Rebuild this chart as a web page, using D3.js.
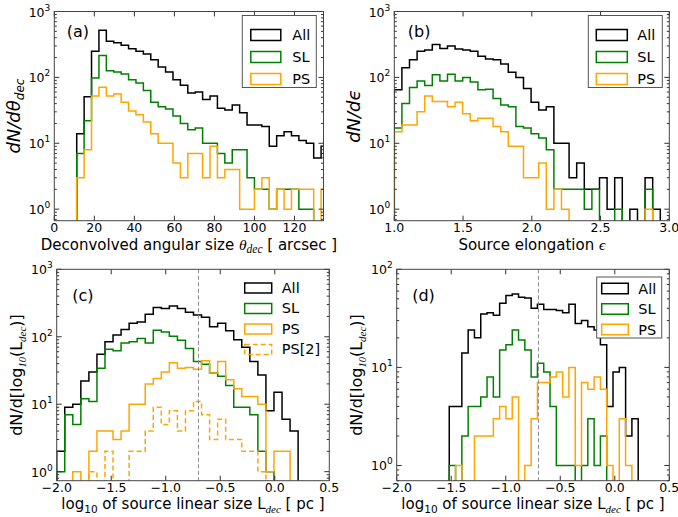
<!DOCTYPE html>
<html><head><meta charset="utf-8">
<script src="https://cdn.jsdelivr.net/npm/d3@7"></script>
<style>
body{margin:0;background:#fff;}
text{font-family:"DejaVu Sans",sans-serif;fill:#000;}
</style></head>
<body><svg id="chart" width="678" height="517"></svg>
<script>
// ---------------- DATA ----------------
// (a) deconvolved angular size [arcsec]: bins start / width, counts per bin
const aBinFirst = 11.2, aBinWidth = 3.7;
const aAll = [14, 51, 249, 519, 353, 336, 307, 273, 249, 226, 186, 144, 121, 92, 76, 58, 60, 46, 52, 34, 32, 38, 29, 19, 19, 18, 9, 13, 15, 13, 11, 10, 6, 9];
const aSL  = [7, 22, 98, 214, 126, 121, 113, 92, 82, 63, 42, 36, 33, 26, 20, 16, 17, 10, 10, 7, 5, 8, 8, 3, 2, 2, 1, 2, 2, 2, 1, 1, 0, 0];
const aPS  = [3, 8, 52, 71, 52, 56, 42, 31, 27, 21, 14, 10, 10, 5, 3, 7, 7, 3, 9, 3, 4, 4, 1, 1, 2, 3, 1, 2, 1, 2, 2, 2, 0, 2];
// (b) source elongation
const bBinFirst = 1.0, bBinWidth = 0.05527;
const bAll = [65, 140, 185, 250, 260, 315, 275, 300, 270, 260, 250, 210, 190, 185, 160, 120, 100, 68, 42, 32, 36, 10, 10, 3, 5, 2, 2, 3, 1, 3, 0, 1, 0, 3, 1];
const bSL  = [17, 40, 70, 88, 75, 110, 88, 112, 88, 100, 85, 65, 66, 48, 38, 36, 18, 17, 14, 12, 8, 2, 2, 2, 2, 1, 2, 0, 0, 1, 0, 0, 0, 2, 0];
const bPS  = [15, 19, 19, 30, 52, 43, 43, 36, 42, 28, 22, 24, 24, 18, 15, 9, 9, 3, 3, 5, 1, 2, 1, 0, 0, 0, 0, 0, 0, 0, 0, 0, 0, 1, 0];
// (c) log10 linear size [pc]
const cBinFirst = -2.0, cBinWidth = 0.0738;
const cAll = [2, 9, 10, 22, 30, 55, 84, 106, 128, 158, 165, 216, 272, 262, 285, 262, 230, 210, 194, 141, 158, 123, 90, 70, 43, 27, 8, 15, 6, 4];
const cSL  = [1, 7, 5, 12, 11, 34, 65, 62, 81, 84, 94, 81, 125, 118, 102, 89, 67, 43, 39, 29, 26, 19, 9, 9, 7, 2, 1, 0, 0, 0];
const cPS  = [0, 0, 1, 0, 2, 4, 4, 3, 4, 10, 10, 20, 24, 30, 41, 34, 35, 33, 44, 29, 43, 23, 17, 13, 13, 10, 1, 2, 2, 0];
const cPS2 = [0, 0, 0, 0, 1, 0, 2, 0, 0, 2, 2, 4, 9, 5, 8, 4, 8, 11, 7, 3, 6, 3, 3, 2, 2, 1, 0, 0, 0, 0];
// (d) log10 linear size [pc], second sample
const dBinFirst = -1.518, dBinWidth = 0.05776;
const dAll = [4, 4, 14, 24, 20, 35, 36, 34, 45, 54, 56, 52, 51, 40, 44, 39, 39, 38, 36, 44, 28, 30, 26, 24, 17, 4, 9, 10, 2, 3];
const dSL  = [1, 0, 2, 4, 4, 5, 8, 5, 15, 17, 24, 19, 15, 8, 11, 9, 4, 1, 1, 1, 0, 1, 3, 1, 2, 0, 0, 0, 0, 0];
const dPS  = [0, 1, 0, 0, 2, 2, 2, 3, 4, 3, 5, 0, 1, 3, 7, 7, 8, 9, 5, 10, 1, 7, 6, 8, 6, 1, 0, 3, 1, 0];
// ticks & reference line
const aXTicks = [0, 20, 40, 60, 80, 100, 120];
const bXTicks = [1.0, 1.5, 2.0, 2.5, 3.0];
const cdXTicks = [-2.0, -1.5, -1.0, -0.5, 0.0, 0.5];
const refLineX = -0.7;
const seriesLabels = ["All", "SL", "PS", "PS[2]"];

// ---------------- DRAWING ----------------
const svg = d3.select("#chart");
svg.append("rect").attr("width", 678).attr("height", 517).attr("fill", "#fff");
const COL = {All: "#000000", SL: "#008000", PS: "#FFA500", "PS[2]": "#FFA500"};
const MATH = "'Liberation Serif','DejaVu Serif',serif";

function drawPanel(cfg) {
  const g = svg.append("g").attr("transform", `translate(${cfg.left},${cfg.top})`);
  const W = cfg.width, H = cfg.height;
  const x = d3.scaleLinear().domain(cfg.xDomain).range([0, W]);
  const y = d3.scaleLog().domain(cfg.yDomain).range([H, 0]);
  const clipId = "clip-" + cfg.id;
  g.append("clipPath").attr("id", clipId).append("rect").attr("width", W).attr("height", H);
  const plot = g.append("g").attr("clip-path", `url(#${clipId})`);
  const below = H + 30;
  const line = d3.line().x(d => d[0]).y(d => d[1]);

  cfg.series.forEach(s => {
    const n = s.values.length;
    const edges = d3.range(n + 1).map(i => cfg.binFirst + i * cfg.binWidth);
    const pts = [[x(edges[0]), below]];
    s.values.forEach((v, i) => {
      const yy = v > 0 ? y(v) : below;
      pts.push([x(edges[i]), yy], [x(edges[i + 1]), yy]);
    });
    pts.push([x(edges[n]), below]);
    plot.append("path").attr("d", line(pts)).attr("fill", "none")
      .attr("stroke", COL[s.name]).attr("stroke-width", 1.5)
      .attr("stroke-dasharray", s.dash ? "5,3" : null);
  });

  if (cfg.refLine !== undefined) {
    plot.append("line").attr("x1", x(cfg.refLine)).attr("x2", x(cfg.refLine))
      .attr("y1", 0).attr("y2", H).attr("stroke", "#888").attr("stroke-width", 1)
      .attr("stroke-dasharray", "4,2.5");
  }

  // ticks
  const tk = g.append("g").attr("stroke", "#333").attr("stroke-width", 1);
  cfg.xTicks.forEach(t => {
    const xx = x(t);
    tk.append("line").attr("x1", xx).attr("x2", xx).attr("y1", H).attr("y2", H - 5);
    tk.append("line").attr("x1", xx).attr("x2", xx).attr("y1", 0).attr("y2", 5);
    g.append("text").attr("x", xx).attr("y", H + 11.5).attr("text-anchor", "middle")
      .attr("font-size", 12.5).text(cfg.xFmt(t));
  });
  const [y0, y1] = cfg.yDomain;
  for (let e = Math.floor(Math.log10(y0)); e <= Math.ceil(Math.log10(y1)); e++) {
    const v = Math.pow(10, e);
    if (v >= y0 * 0.999 && v <= y1 * 1.001) {
      const yy = y(v);
      tk.append("line").attr("x1", 0).attr("x2", 5).attr("y1", yy).attr("y2", yy);
      tk.append("line").attr("x1", W).attr("x2", W - 5).attr("y1", yy).attr("y2", yy);
      const t = g.append("text").attr("x", -4).attr("y", yy + 5).attr("text-anchor", "end").attr("font-size", 12.5);
      t.append("tspan").text("10");
      t.append("tspan").attr("dy", -6).attr("font-size", 9).text(String(e));
    }
    for (let m = 2; m <= 9; m++) {
      const mv = m * v;
      if (mv > y0 && mv < y1) {
        const yy = y(mv);
        tk.append("line").attr("x1", 0).attr("x2", 2.5).attr("y1", yy).attr("y2", yy);
        tk.append("line").attr("x1", W).attr("x2", W - 2.5).attr("y1", yy).attr("y2", yy);
      }
    }
  }

  // legend
  const L = cfg.legend;
  const lg = g.append("g").attr("transform", `translate(${L.x},${L.y})`);
  if (L.frame) {
    lg.append("rect").attr("x", 0).attr("y", 0).attr("width", L.w).attr("height", L.h)
      .attr("fill", "#fff").attr("stroke", "#555").attr("stroke-width", 1);
  }
  cfg.series.forEach((s, i) => {
    const ry = L.rows[i];
    lg.append("rect").attr("x", L.hx).attr("y", ry - L.hh / 2).attr("width", L.hw).attr("height", L.hh)
      .attr("fill", "none").attr("stroke", COL[s.name]).attr("stroke-width", 1.5)
      .attr("stroke-dasharray", s.dash ? "5,3" : null);
    lg.append("text").attr("x", L.tx).attr("y", ry + 5).attr("font-size", 14.5).text(s.name);
  });

  // spines
  g.append("rect").attr("width", W).attr("height", H).attr("fill", "none")
    .attr("stroke", "#444").attr("stroke-width", 1);

  // panel letter
  g.append("text").attr("x", cfg.letterPos[0]).attr("y", cfg.letterPos[1]).attr("font-size", 16).text(cfg.letter);

  cfg.xlabel(g.append("text").attr("x", W / 2).attr("y", cfg.xlabelY).attr("text-anchor", "middle").attr("font-size", 15));
  cfg.ylabel(g.append("text").attr("transform", `translate(${cfg.ylabelX},${H / 2}) rotate(-90)`).attr("text-anchor", "middle"));
}

const fmt0 = d3.format("d"), fmt1 = d3.format(".1f");
const mk = (names, vals) => vals.map((v, i) => ({name: names[i], values: v, dash: names[i] === "PS[2]"}));

function sizeXLabel(t) {
  t.append("tspan").text("log");
  t.append("tspan").attr("dy", 4).attr("font-size", 10.5).text("10");
  t.append("tspan").attr("dy", -4).text(" of source linear size L");
  t.append("tspan").attr("dy", 4).attr("font-size", 11).attr("font-family", MATH).attr("font-style", "italic").text("dec");
  t.append("tspan").attr("dy", -4).text(" [ pc ]");
}
function sizeYLabel(t) {
  t.attr("font-size", 16);
  t.append("tspan").text("dN/d[log");
  t.append("tspan").attr("dy", 4).attr("font-size", 10.5).attr("font-family", MATH).attr("font-style", "italic").text("10");
  t.append("tspan").attr("dy", -4).text("(L");
  t.append("tspan").attr("dy", 4).attr("font-size", 11).attr("font-family", MATH).attr("font-style", "italic").text("dec");
  t.append("tspan").attr("dy", -4).text(")]");
}

drawPanel({
  id: "a", left: 54.3, top: 11.5, width: 269.2, height: 209.2,
  xDomain: [0, 134.5], yDomain: [Math.pow(10, -0.175), 1000],
  binFirst: aBinFirst, binWidth: aBinWidth,
  series: mk(seriesLabels, [aAll, aSL, aPS]),
  xTicks: aXTicks, xFmt: fmt0, letter: "(a)", letterPos: [12.5, 25.5],
  legend: {frame: true, x: 188, y: 4, w: 74, h: 72, rows: [19.5, 41.5, 63.5], hx: 8.5, hw: 30, hh: 11, tx: 50},
  xlabelY: 238,
  xlabel: t => {
    t.append("tspan").text("Deconvolved angular size ");
    t.append("tspan").attr("font-family", MATH).attr("font-style", "italic").attr("font-size", 15.5).text("θ");
    t.append("tspan").attr("dy", 3.5).attr("font-family", MATH).attr("font-style", "italic").attr("font-size", 11.5).text("dec");
    t.append("tspan").attr("dy", -3.5).text(" [ arcsec ]");
  },
  ylabelX: -34,
  ylabel: t => {
    t.attr("font-family", MATH).attr("font-style", "italic").attr("font-size", 18);
    t.append("tspan").text("dN/dθ");
    t.append("tspan").attr("dy", 4).attr("font-size", 12).text("dec");
  }
});

drawPanel({
  id: "b", left: 394.3, top: 11.5, width: 275, height: 209.2,
  xDomain: [1.0, 3.0], yDomain: [Math.pow(10, -0.175), 1000],
  binFirst: bBinFirst, binWidth: bBinWidth,
  series: mk(seriesLabels, [bAll, bSL, bPS]),
  xTicks: bXTicks, xFmt: fmt1, letter: "(b)", letterPos: [13.5, 25.5],
  legend: {frame: true, x: 194, y: 4, w: 74, h: 72, rows: [19.5, 41.5, 63.5], hx: 8, hw: 31, hh: 11, tx: 49},
  xlabelY: 238,
  xlabel: t => {
    t.append("tspan").text("Source elongation ");
    t.append("tspan").attr("font-family", MATH).attr("font-style", "italic").attr("font-size", 15.5).text("ϵ");
  },
  ylabelX: -34,
  ylabel: t => {
    t.attr("font-family", MATH).attr("font-style", "italic").attr("font-size", 18);
    t.append("tspan").text("dN/dϵ");
  }
});

drawPanel({
  id: "c", left: 56.7, top: 269.3, width: 272.6, height: 211.4,
  xDomain: [-2.0, 0.5], yDomain: [Math.pow(10, -0.134), 1000],
  binFirst: cBinFirst, binWidth: cBinWidth,
  series: mk(seriesLabels, [cAll, cSL, cPS, cPS2]),
  xTicks: cdXTicks, xFmt: fmt1, letter: "(c)", letterPos: [15.5, 31.5],
  refLine: refLineX,
  legend: {frame: false, x: 188, y: 0, rows: [18.7, 39.2, 59.7, 80.2], hx: 0, hw: 27, hh: 10, tx: 37},
  xlabelY: 240,
  xlabel: sizeXLabel,
  ylabelX: -34.5,
  ylabel: sizeYLabel
});

drawPanel({
  id: "d", left: 396.7, top: 269.3, width: 272.6, height: 211.4,
  xDomain: [-2.0, 0.5], yDomain: [Math.pow(10, -0.155), 100],
  binFirst: dBinFirst, binWidth: dBinWidth,
  series: mk(seriesLabels, [dAll, dSL, dPS]),
  xTicks: cdXTicks, xFmt: fmt1, letter: "(d)", letterPos: [15.5, 31.5],
  refLine: refLineX,
  legend: {frame: true, x: 200, y: 7.7, w: 65, h: 61, rows: [11.5, 32, 52.5], hx: 5, hw: 26.6, hh: 10.5, tx: 41.6},
  xlabelY: 240,
  xlabel: sizeXLabel,
  ylabelX: -34.5,
  ylabel: sizeYLabel
});
</script>
</body></html>
